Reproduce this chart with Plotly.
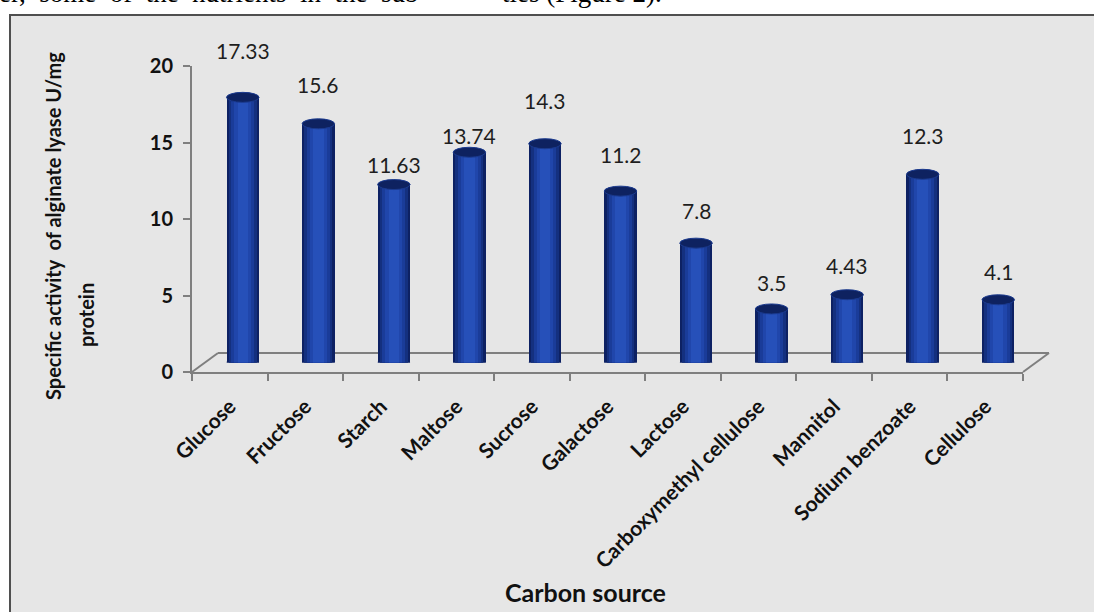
import plotly.graph_objects as go

# ---- data -------------------------------------------------------------
carbon_sources = [
    "Glucose", "Fructose", "Starch", "Maltose", "Sucrose", "Galactose",
    "Lactose", "Carboxymethyl cellulose", "Mannitol", "Sodium benzoate",
    "Cellulose",
]
activity = [17.33, 15.6, 11.63, 13.74, 14.3, 11.2, 7.8, 3.5, 4.43, 12.3, 4.1]
y_ticks = [0, 5, 10, 15, 20]

# vertical gap (px) between each cylinder top and its value label
label_lift = [47, 39, 20, 17, 43, 37, 33, 26, 29, 39, 28]

# ---- page geometry (pixels) -------------------------------------------
W, H = 1094, 612
AX_L, AX_R = 192, 1023        # front edge of the floor
Y_ZERO, Y_TOP = 372, 66       # pixel rows of 0 and 20 on the front plane
DEPTH_X, DEPTH_Y = 26, 19     # depth offset of the back edge of the floor
BAR_W = 0.43                  # cylinder width as a share of one category

SANS = "Lato, 'Open Sans', sans-serif"
SERIF = "'Liberation Serif', 'Times New Roman', serif"


def fx(p):
    return p / W


def fy(p):
    return 1 - p / H


n = len(carbon_sources)
idx = list(range(n))

fig = go.Figure()

# front plane: only carries the category axis and the value axis
fig.add_trace(go.Scatter(
    x=carbon_sources, y=activity, mode="markers",
    marker=dict(opacity=0), hoverinfo="skip", showlegend=False,
    xaxis="x", yaxis="y",
))

# cylinders sit half-way into the depth: shaded with nested bars
shades = [
    (1.00, "#0d2163"),
    (0.86, "#14307f"),
    (0.70, "#1a3c99"),
    (0.52, "#2046ab"),
    (0.32, "#2650b9"),
]
for frac, col in shades:
    fig.add_trace(go.Bar(
        x=idx, y=activity, width=BAR_W * frac,
        marker=dict(color=col, line=dict(width=0)),
        hoverinfo="skip", showlegend=False,
        xaxis="x2", yaxis="y2",
    ))

shapes = []

# chart panel
shapes.append(dict(
    type="rect", xref="paper", yref="paper",
    x0=fx(10), x1=fx(W + 20), y0=fy(15), y1=fy(H + 20),
    fillcolor="#e6e6e6", line=dict(color="#4f4f4f", width=2),
    layer="below",
))

# 3-D floor outline (back edge and the two side edges)
floor_col = "#7f7f7f"
for (xa, ya, xb, yb) in [
    (AX_L + DEPTH_X, Y_ZERO - DEPTH_Y, AX_R + DEPTH_X, Y_ZERO - DEPTH_Y),
    (AX_L, Y_ZERO, AX_L + DEPTH_X, Y_ZERO - DEPTH_Y),
    (AX_R, Y_ZERO, AX_R + DEPTH_X, Y_ZERO - DEPTH_Y),
]:
    shapes.append(dict(
        type="line", xref="paper", yref="paper",
        x0=fx(xa), y0=fy(ya), x1=fx(xb), y1=fy(yb),
        line=dict(color=floor_col, width=2), layer="below",
    ))

# rounded cylinder bottoms and dark elliptical tops
for i, v in zip(idx, activity):
    for frac, col in shades:
        hw = BAR_W * frac / 2
        shapes.append(dict(
            type="circle", xref="x2", yref="y2",
            x0=i - hw, x1=i + hw,
            ysizemode="pixel", yanchor=0, y0=-4.5, y1=4.5,
            fillcolor=col, line=dict(width=0), layer="below",
        ))
    hw = BAR_W / 2
    shapes.append(dict(
        type="circle", xref="x2", yref="y2",
        x0=i - hw, x1=i + hw,
        ysizemode="pixel", yanchor=v, y0=-5, y1=5,
        fillcolor="#0e2260", line=dict(color="#1b3a8e", width=1),
        layer="above",
    ))

annotations = []
label_font = dict(family=SANS, size=21, color="#1e1e1e")
for i, v, lift in zip(idx, activity, label_lift):
    annotations.append(dict(
        xref="x2", yref="y2", x=i, y=v, text=f"{v:g}",
        showarrow=False, yanchor="middle", yshift=lift, font=label_font,
    ))

title_font = dict(family=SANS, size=20, color="#111111", weight="bold")
annotations += [
    dict(xref="paper", yref="paper", x=fx(53), y=fy(226),
         text="Specific activity  of alginate lyase U/mg",
         textangle=-90, showarrow=False, font=title_font,
         xanchor="center", yanchor="middle"),
    dict(xref="paper", yref="paper", x=fx(86), y=fy(315),
         text="protein", textangle=-90, showarrow=False,
         font=title_font, xanchor="center", yanchor="middle"),
    dict(xref="paper", yref="paper", x=fx(585), y=fy(592),
         text="Carbon source", showarrow=False,
         font=dict(family=SANS, size=25, color="#111111", weight="bold"),
         xanchor="center", yanchor="middle"),
]

# running text of the page above the figure
body_font = dict(family=SERIF, size=27, color="#000000")
annotations += [
    dict(xref="paper", yref="paper", x=fx(-3), y=fy(0), yanchor="middle",
         xanchor="left", yshift=7,
         text="er,  some  of  the  nutrients  in  the  sub",
         showarrow=False, font=body_font),
    dict(xref="paper", yref="paper", x=fx(500), y=fy(0), yanchor="middle",
         xanchor="left", yshift=7,
         text="ties (Figure 2).", showarrow=False, font=body_font),
]

fig.update_layout(
    width=W, height=H,
    margin=dict(l=0, r=0, t=0, b=0, autoexpand=False),
    paper_bgcolor="#ffffff", plot_bgcolor="rgba(0,0,0,0)",
    barmode="overlay", bargap=0,
    showlegend=False,
    shapes=shapes, annotations=annotations,
    xaxis=dict(
        domain=[fx(AX_L), fx(AX_R)], anchor="y", automargin=False,
        type="category", categoryorder="array", categoryarray=carbon_sources,
        range=[-0.5, n - 0.5], tickson="boundaries",
        showline=True, linecolor=floor_col, linewidth=2,
        ticks="outside", ticklen=7, tickwidth=2, tickcolor=floor_col,
        tickangle=-45, showgrid=False, zeroline=False,
        tickfont=dict(family=SANS, size=21, color="#111111", weight="bold"),
        ticklabelstandoff=12,
    ),
    yaxis=dict(
        domain=[fy(Y_ZERO), fy(Y_TOP)], anchor="x", automargin=False,
        range=[0, 20], tickvals=y_ticks,
        showline=True, linecolor=floor_col, linewidth=2,
        ticks="outside", ticklen=7, tickwidth=2, tickcolor=floor_col,
        showgrid=False, zeroline=False,
        tickfont=dict(family=SANS, size=20, color="#111111", weight="bold"),
        ticklabelstandoff=6,
    ),
    xaxis2=dict(
        domain=[fx(AX_L + DEPTH_X / 2), fx(AX_R + DEPTH_X / 2)], anchor="y2",
        range=[-0.5, n - 0.5], visible=False, fixedrange=True,
        automargin=False,
    ),
    yaxis2=dict(
        domain=[fy(Y_ZERO - DEPTH_Y / 2), fy(Y_TOP - DEPTH_Y / 2)], anchor="x2",
        range=[0, 20], visible=False, fixedrange=True, automargin=False,
    ),
)

fig.write_html("out.html")
